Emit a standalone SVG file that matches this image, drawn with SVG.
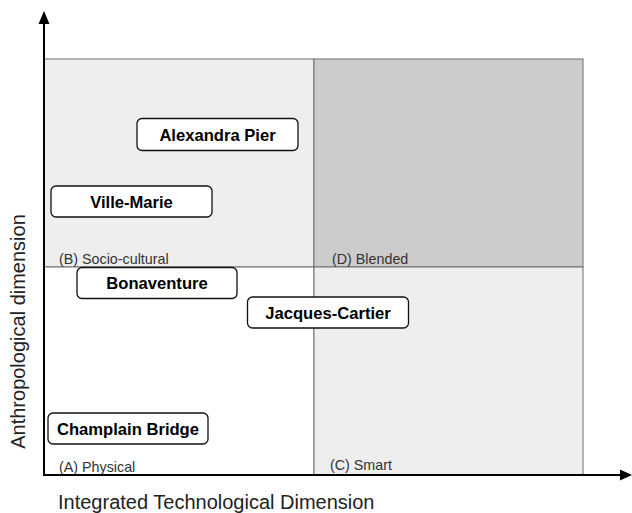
<svg xmlns="http://www.w3.org/2000/svg" width="632" height="513" viewBox="0 0 632 513">
<style>
.q{stroke:#6e6e6e;stroke-width:1}
.ql{font-family:"Liberation Sans",Arial,sans-serif;font-size:14.3px;fill:#333}
.node rect{fill:#fff;stroke:#111;stroke-width:1.3}
.node text{font-family:"Liberation Sans",Arial,sans-serif;font-size:16.6px;font-weight:bold;fill:#000;text-anchor:middle}
.ax{font-family:"Liberation Sans",Arial,sans-serif;font-size:20px;fill:#222}
.axis{stroke:#000;stroke-width:2;fill:none}
</style>
<rect width="632" height="513" fill="#fff"/>
<g id="quadrants">
<rect class="q" x="44" y="59" width="270" height="208" fill="#eeeeee"/>
<rect class="q" x="314" y="59" width="269" height="208" fill="#cccccc"/>
<rect class="q" x="44" y="267" width="270" height="208" fill="#ffffff"/>
<rect class="q" x="314" y="267" width="269" height="208" fill="#eeeeee"/>
<text class="ql" x="59" y="264">(B) Socio-cultural</text>
<text class="ql" x="332" y="264">(D) Blended</text>
<text class="ql" x="59" y="472">(A) Physical</text>
<text class="ql" x="330" y="470">(C) Smart</text>
</g>
<g id="connectors">
<path class="axis" d="M44,475 V24"/>
<path d="M38.5,24 L44,11 L49.5,24 Z" fill="#000"/>
<path class="axis" d="M43,475 H620"/>
<path d="M620,469.5 L632,475 L620,480.5 Z" fill="#000"/>
</g>
<text class="ax" x="58" y="509">Integrated Technological Dimension</text>
<text class="ax" transform="translate(24.5,331.5) rotate(-90)" text-anchor="middle">Anthropological dimension</text>
<g id="alexandra-pier" class="node"><rect x="137" y="118.5" width="161" height="32" rx="5"/><text x="217.5" y="140.5">Alexandra Pier</text></g>
<g id="ville-marie" class="node"><rect x="51" y="186" width="161" height="31" rx="5"/><text x="131.5" y="207.5">Ville-Marie</text></g>
<g id="bonaventure" class="node"><rect x="77" y="267.5" width="160" height="31" rx="5"/><text x="157" y="289">Bonaventure</text></g>
<g id="jacques-cartier" class="node"><rect x="247.5" y="297" width="161" height="31" rx="5"/><text x="328" y="318.5">Jacques-Cartier</text></g>
<g id="champlain-bridge" class="node"><rect x="48" y="413" width="160" height="31" rx="5"/><text x="128" y="434.5">Champlain Bridge</text></g>
</svg>
